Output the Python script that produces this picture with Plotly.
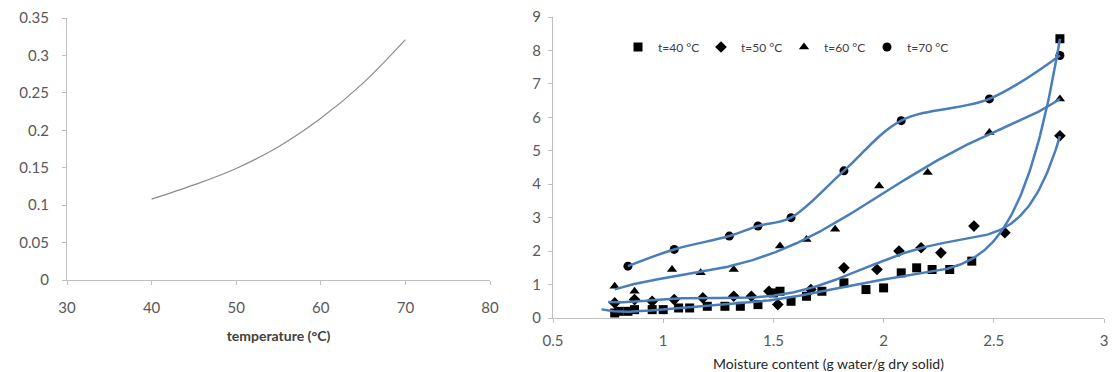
import numpy as np
import plotly.graph_objects as go

# ---- left chart data ----
temp_c = [40, 45, 50, 55, 60, 65, 70]
rate_k = [0.108, 0.127, 0.149, 0.178, 0.216, 0.263, 0.321]

# ---- right chart data ----
x40 = [0.78, 0.80, 0.84, 0.87, 0.95, 1.00, 1.07, 1.12, 1.20, 1.28, 1.35, 1.43, 1.50, 1.53,
       1.58, 1.65, 1.72, 1.82, 1.92, 2.00, 2.08, 2.15, 2.22, 2.30, 2.40, 2.80]
y40 = [0.15, 0.20, 0.20, 0.25, 0.25, 0.25, 0.30, 0.30, 0.35, 0.35, 0.35, 0.40, 0.75, 0.80,
       0.50, 0.65, 0.80, 1.05, 0.85, 0.90, 1.35, 1.50, 1.45, 1.45, 1.70, 8.35]
x50 = [0.78, 0.87, 0.95, 1.05, 1.18, 1.32, 1.40, 1.48, 1.52, 1.67, 1.82, 1.97, 2.07, 2.17,
       2.26, 2.41, 2.55, 2.80]
y50 = [0.45, 0.55, 0.50, 0.55, 0.60, 0.65, 0.65, 0.80, 0.40, 0.85, 1.50, 1.45, 2.00, 2.10,
       1.95, 2.75, 2.55, 5.45]
x60 = [0.78, 0.87, 1.04, 1.17, 1.32, 1.53, 1.65, 1.78, 1.98, 2.20, 2.48, 2.80]
y60 = [0.95, 0.80, 1.45, 1.35, 1.45, 2.15, 2.35, 2.65, 3.95, 4.35, 5.55, 6.55]
x70 = [0.84, 1.05, 1.30, 1.43, 1.58, 1.82, 2.08, 2.48, 2.80]
y70 = [1.55, 2.05, 2.45, 2.75, 3.00, 4.40, 5.90, 6.55, 7.85]

series = [
    ("t=40 °C", x40, y40, "square"),
    ("t=50 °C", x50, y50, "diamond"),
    ("t=60 °C", x60, y60, "triangle-up"),
    ("t=70 °C", x70, y70, "circle"),
]

fig = go.Figure()
FONT = "Lato, 'Open Sans', sans-serif"
CURVE = "#4a7ebb"

fig.add_trace(go.Scatter(x=temp_c, y=rate_k, mode="lines",
                         line=dict(color="#8c8c8c", width=1.2, shape="spline", smoothing=1.0),
                         showlegend=False, xaxis="x", yaxis="y"))

for name, xs, ys, sym in series:
    fig.add_trace(go.Scatter(x=xs, y=ys, mode="markers", name=name,
                             marker=dict(symbol=sym, size=9, color="black"),
                             xaxis="x2", yaxis="y2"))

# trend curves (polynomial fits; t=70 smoothed through its points)
for name, xs, ys, sym in series[:3]:
    coef = np.polyfit(xs, ys, 6)
    ext = {"square": 0.06, "diamond": 0.03, "triangle-up": 0.0}[sym]
    xx = np.linspace(min(xs) - ext, max(xs), 300)
    fig.add_trace(go.Scatter(x=xx, y=np.polyval(coef, xx), mode="lines", showlegend=False,
                             line=dict(color=CURVE, width=2.5), hoverinfo="skip",
                             xaxis="x2", yaxis="y2"))
fig.add_trace(go.Scatter(x=x70, y=y70, mode="lines", showlegend=False,
                         line=dict(color=CURVE, width=2.5, shape="spline", smoothing=1.0),
                         hoverinfo="skip", xaxis="x2", yaxis="y2"))

# figure sits inside the page's 8px body margin: fig coords = page coords - 8
W, H = 1108, 364
OFF = 8
def px_x(p):
    return (p - OFF) / W
def px_y(p):
    return 1 - (p - OFF) / H

axis_common = dict(showgrid=False, zeroline=False, showline=True, linecolor="#bfbfbf", linewidth=1,
                   ticks="outside", tickcolor="#bfbfbf", ticklen=4, automargin=False,
                   ticklabeloverflow="allow",
                   tickfont=dict(family=FONT, size=15, color="#595959"))

fig.update_layout(
    width=W, height=H, margin=dict(l=0, r=0, t=0, b=0),
    paper_bgcolor="white", plot_bgcolor="white",
    font=dict(family=FONT),
    xaxis=dict(domain=[px_x(67), px_x(490)], range=[30, 80], dtick=10, anchor="y", ticklabelstandoff=10,
               title=dict(text="<b>temperature (°C)</b>", font=dict(family=FONT, size=14, color="#404040"),
                          standoff=16), **axis_common),
    yaxis=dict(domain=[px_y(280), px_y(18)], range=[0, 0.35], dtick=0.05, anchor="x",
               ticklabelstandoff=10, **axis_common),
    xaxis2=dict(domain=[px_x(553), px_x(1104)], range=[0.5, 3], dtick=0.5, anchor="y2", ticklabelstandoff=5,
                title=dict(text="Moisture content (g water/g dry solid)",
                           font=dict(family=FONT, size=14, color="#262626"), standoff=14), **axis_common),
    yaxis2=dict(domain=[px_y(318), px_y(17)], range=[0, 9], dtick=1, anchor="x2",
                ticklabelstandoff=4, **axis_common),
    legend=dict(orientation="h", x=px_x(618), y=px_y(47), xanchor="left", yanchor="middle",
                font=dict(family=FONT, size=12, color="#404040"), bgcolor="rgba(0,0,0,0)",
                itemwidth=30, tracegroupgap=0, entrywidth=38),
)

fig.write_html("out.html")
